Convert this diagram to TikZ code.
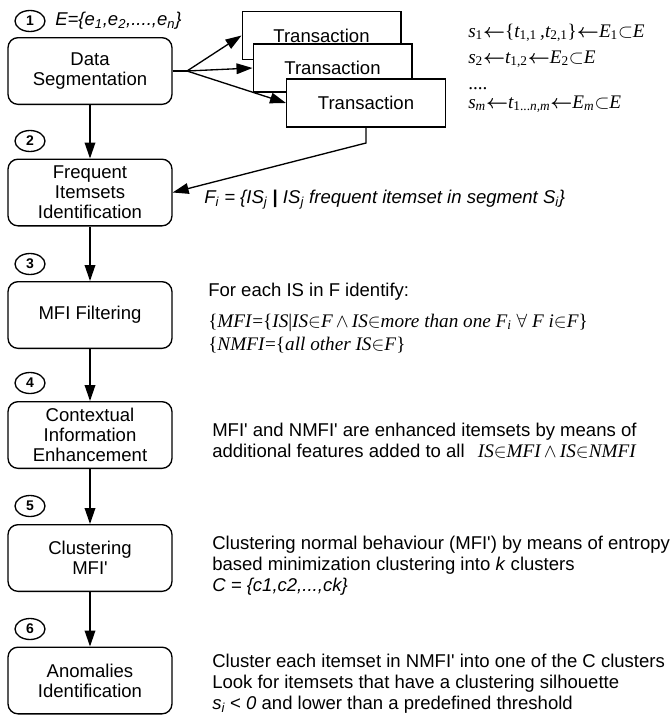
\documentclass[tikz,border=0pt]{standalone}
\usepackage{amsmath}
\usepackage{fontspec}
\setmainfont{Liberation Sans}
\newfontfamily\mathserif{Liberation Serif}
\usetikzlibrary{arrows.meta, shapes.geometric}

\newcommand{\sq}{\textquotesingle}
\newcommand{\boxfont}{\fontsize{13.9}{15}\selectfont}
\newcommand{\notefont}{\fontsize{13.9}{15.75}\selectfont}
\newcommand{\formfont}{\fontsize{14.4}{16}\selectfont\mathserif\itshape}
\newcommand{\low}[1]{\textsubscript{\upshape #1}}
\newcommand{\getsarrow}{$\boldsymbol{\leftarrow}$}

\tikzset{
    stage/.style={draw, rectangle, rounded corners=7.5pt, line width=1pt, minimum width=123pt, minimum height=50pt, inner sep=2pt, align=center, font=\boxfont},
    trans/.style={draw, rectangle, fill=white, line width=1pt, minimum width=119pt, minimum height=36pt, font=\boxfont},
    num/.style={draw, ellipse, line width=1pt, minimum width=22.5pt, minimum height=15.75pt, inner sep=0pt, font=\fontsize{10.5}{12}\selectfont\bfseries},
    note/.style={anchor=west, align=left, inner sep=0pt, font=\notefont},
    formula/.style={anchor=base west, inner sep=0pt, font=\formfont},
    flow/.style={-{Triangle[length=12pt,width=8pt]}, line width=1pt}
}

\begin{document}
\begin{tikzpicture}[x=0.75pt, y=-0.75pt]
    \useasboundingbox (0,0) rectangle (670,715);

    % the six steps
    \node[stage] (seg) at (90,71) {Data\\Segmentation};
    \node[stage] (freq) at (90,192.5) {Frequent\\Itemsets\\Identification};
    \node[stage] (mfi) at (90,315) {MFI Filtering};
    \node[stage] (ctx) at (90,435) {Contextual\\Information\\Enhancement};
    \node[stage] (clus) at (90,558) {Clustering\\MFI\sq};
    \node[stage] (anom) at (90,680.5) {Anomalies\\Identification};

    \foreach \n/\y in {1/21, 2/141, 3/264, 4/383, 5/506, 6/629}
        \node[num] (n\n) at (30,\y) {\n};

    \foreach \a/\b in {seg/freq, freq/mfi, mfi/ctx, ctx/clus, clus/anom}
        \draw[flow] (\a) -- (\b);

    % segmentation into transactions
    \coordinate (fan) at (187,71);
    \draw[line width=1pt] (seg.east) -- (fan);
    \node[trans] (tr1) at (321.5,35.5) {Transaction};
    \node[trans] (tr2) at (332.5,68) {Transaction};
    \node[trans] (tr3) at (366,103) {Transaction};
    \foreach \t in {tr1, tr2, tr3}
        \draw[flow] (fan) -- (\t.west);

    \coordinate (back) at (366,143);
    \draw[flow] (tr3.south) -- (back) -- (freq.east);

    % descriptions
    \node[note] (elist) at (55,21) {\textit{E=\{e\textsubscript{1},e\textsubscript{2},....,e\textsubscript{n}\}}};

    \node[formula] (s1) at (468,37) {s\low{1}\getsarrow\textup{\{}t\low{1,1}\,,t\low{2,1}\textup{\}}\getsarrow E\low{1}$\subset$E};
    \node[formula] (s2) at (468,63) {s\low{2}\getsarrow t\low{1,2}\getsarrow E\low{2}$\subset$E};
    \node[formula] (sdots) at (468,89) {\upshape ....};
    \node[formula] (sm) at (468,108) {s\textsubscript{m}\getsarrow t\textsubscript{\upshape 1...\itshape n,m}\getsarrow E\textsubscript{m}$\subset$E};

    \node[note] (fset) at (204,200) {\textit{F\textsubscript{i} = \{IS\textsubscript{j} \textup{\textbf{|}} IS\textsubscript{j} frequent itemset in segment S\textsubscript{i}\}}};

    \node[note] (ident) at (208,292) {For each IS in F identify:};
    \node[formula] (mfidef) at (208,327) {\textup{\{}MFI\textup{=\{}IS\textup{|}IS$\in$F$\,\wedge\,$IS$\in$more than one F\textsubscript{i} $\forall$ F i$\in$F\textup{\}}};
    \node[formula] (nmfidef) at (208,350) {\textup{\{}NMFI\textup{=\{}all other IS$\in$F\textup{\}}};

    \node[note] (enh) at (212,441) {MFI\sq{} and NMFI\sq{} are enhanced itemsets by means of\\additional features added to all {\formfont\, IS$\in$MFI$\,\wedge\,$IS$\in$NMFI}};

    \node[note] (entropy) at (212,566) {Clustering normal behaviour (MFI\sq) by means of entropy\\based minimization clustering into \textit{k} clusters\\\textit{C = \{c1,c2,...,ck\}}};

    \node[note] (silh) at (212,684) {Cluster each itemset in NMFI\sq{} into one of the C clusters\\Look for itemsets that have a clustering silhouette\\\textit{s\textsubscript{i}} < \textit{0} and lower than a predefined threshold};
\end{tikzpicture}
\end{document}
